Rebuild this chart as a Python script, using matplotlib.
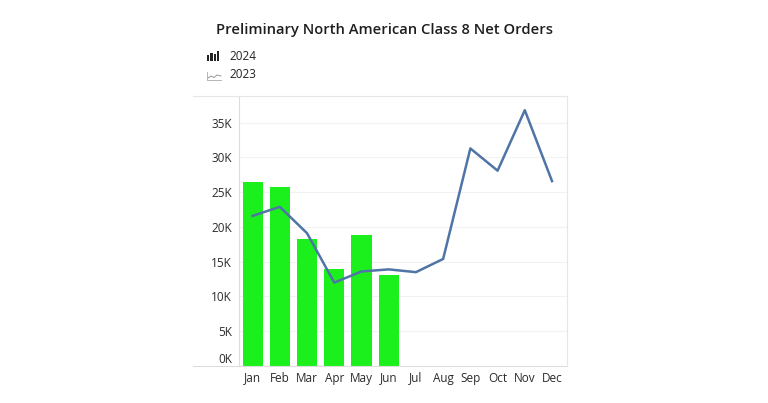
import matplotlib.pyplot as plt
from matplotlib.lines import Line2D
from matplotlib.patches import Rectangle

plt.rcParams["font.family"] = ["Open Sans", "DejaVu Sans"]

months = ["Jan", "Feb", "Mar", "Apr", "May", "Jun", "Jul", "Aug", "Sep", "Oct", "Nov", "Dec"]
orders_2024 = [26.4, 25.7, 18.3, 14.0, 18.9, 13.1]
orders_2023 = [21.6, 22.9, 19.1, 12.0, 13.6, 13.9, 13.5, 15.4, 31.3, 28.1, 36.8, 26.6]
yticks = [0, 5, 10, 15, 20, 25, 30, 35]

bar_color = "#1cf01c"
line_color = "#4f74a6"
text_color = "#2b2b2b"

fig = plt.figure(figsize=(7.68, 4.03), dpi=100)
ax = fig.add_axes([239 / 768, 1 - 366 / 403, (567 - 239) / 768, (366 - 97) / 403])

x = list(range(len(months)))
ax.bar(x[:len(orders_2024)], orders_2024, width=0.74, color=bar_color, zorder=2)
ax.plot(x, orders_2023, color=line_color, linewidth=1.8, zorder=3)

ax.set_xlim(-0.5, 11.55)
ax.set_ylim(0, 38.7)
ax.set_xticks(x)
ax.set_xticklabels(months, fontsize=8.5, color=text_color)
ax.set_yticks(yticks)
ax.set_yticklabels([f"{v}K" for v in yticks], fontsize=8.5, color=text_color)
ax.get_yticklabels()[0].set_va("bottom")
ax.tick_params(length=0, pad=5)
ax.tick_params(axis="x", pad=4)
ax.grid(axis="y", color="#f2f2f2", linewidth=0.8, zorder=0)

for side in ["top", "bottom", "right"]:
    ax.spines[side].set_visible(False)
ax.spines["left"].set_color("#dddddd")
ax.spines["left"].set_linewidth(0.8)

# outer frame lines spanning past the tick labels
y_top = 1 - 96 / 403
y_bot = 1 - 366 / 403
x_l = 193 / 768
x_r = 567 / 768
fig.add_artist(Line2D([x_l, x_r], [y_top, y_top], color="#e6e6e6", lw=0.8))
fig.add_artist(Line2D([x_l, x_r], [y_bot, y_bot], color="#dddddd", lw=0.8))
fig.add_artist(Line2D([x_r, x_r], [y_bot, y_top], color="#e6e6e6", lw=0.8))

fig.text(384 / 768, 1 - 30 / 403, "Preliminary North American Class 8 Net Orders",
         ha="center", va="center", fontsize=10.6, fontweight="semibold", color="#1e1e1e")

# legend: small bar icon and line icon
W, H = 768, 403
for i, hgt in enumerate([6, 8, 7, 10]):
    fig.add_artist(Rectangle(((207 + i * 3.3) / W, 1 - 61 / H), 2.4 / W, hgt / H,
                             color="#222222", lw=0))
fig.add_artist(Line2D([207 / W, 207 / W, 221 / W], [1 - 72 / H, 1 - 80 / H, 1 - 80 / H],
                      color="#aaaaaa", lw=0.6))
fig.add_artist(Line2D([208 / W, 211 / W, 214 / W, 217 / W, 221 / W],
                      [1 - 78 / H, 1 - 76 / H, 1 - 77.5 / H, 1 - 75 / H, 1 - 76 / H],
                      color="#888888", lw=0.6))
fig.text(229 / W, 1 - 56 / H, "2024", ha="left", va="center", fontsize=8.5, color="#222222")
fig.text(229 / W, 1 - 75 / H, "2023", ha="left", va="center", fontsize=8.5, color="#222222")

fig.savefig("out.png", dpi=100, facecolor="white")
